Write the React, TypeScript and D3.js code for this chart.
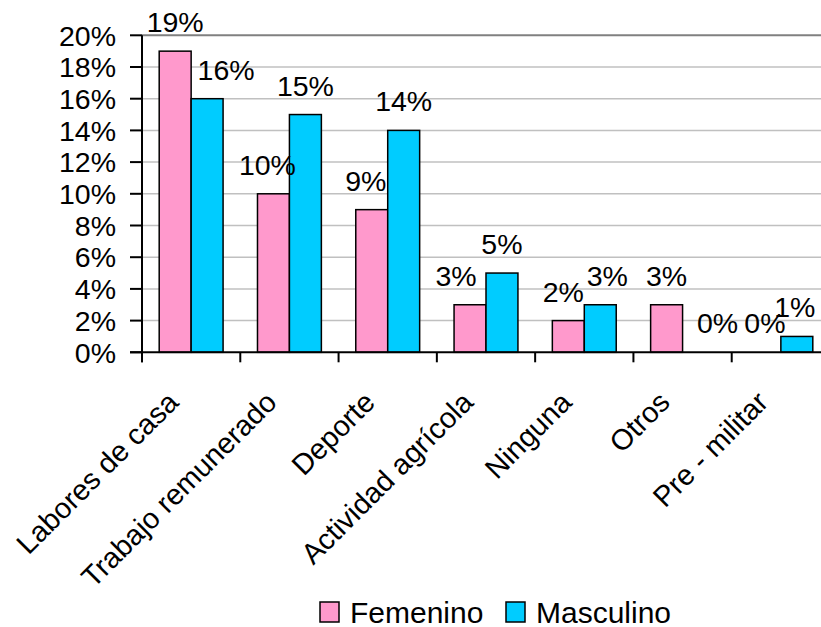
import React from "react";
import * as d3 from "d3";

const categories = [
  "Labores de casa",
  "Trabajo remunerado",
  "Deporte",
  "Actividad agrícola",
  "Ninguna",
  "Otros",
  "Pre - militar",
];
const seriesNames = ["Femenino", "Masculino"];
const femenino = [0.19, 0.1, 0.09, 0.03, 0.02, 0.03, 0.0];
const masculino = [0.16, 0.15, 0.14, 0.05, 0.03, 0.0, 0.01];
const yTicks = [0, 0.02, 0.04, 0.06, 0.08, 0.1, 0.12, 0.14, 0.16, 0.18, 0.2];
const colors = ["#FF99CC", "#00CCFF"];

// layout nudges for data labels (as placed in the original)
const labelNudge = [
  [0, -6, -6, -14, -5, 0, 0],
  [19, 0, 0, 0, 7, 19, -2],
];

const W = 821;
const H = 627;
const FONT = "'Liberation Sans', Arial, sans-serif";

export default function App() {
  const x0 = d3.scaleBand<string>().domain(categories).range([142, 830]).padding(0);
  const bw = x0.bandwidth();
  const x1 = d3
    .scaleBand<string>()
    .domain(seriesNames)
    .range([bw * 0.175, bw * 0.825])
    .padding(0);
  const y = d3.scaleLinear().domain([0, 0.2]).range([352.3, 35.3]);
  const fmt = d3.format(".0%");
  const values = [femenino, masculino];

  return (
    <svg
      width={W}
      height={H}
      style={{ position: "absolute", left: 0, top: 0, background: "#fff" }}
      fontFamily={FONT}
    >
      <rect x={0} y={0} width={W} height={H} fill="#fff" />
      {/* gridlines */}
      {yTicks.slice(1).map((t, i) => (
        <line
          key={"g" + i}
          x1={142}
          x2={830}
          y1={y(t)}
          y2={y(t)}
          stroke={t === 0.2 ? "#808080" : "#C0C0C0"}
          strokeWidth={t === 0.2 ? 2 : 1.5}
        />
      ))}
      {/* bars */}
      {categories.map((c, ci) =>
        seriesNames.map((s, si) => {
          const v = values[si][ci];
          const bx = (x0(c) as number) + (x1(s) as number);
          return (
            <rect
              key={c + s}
              x={bx}
              y={y(v)}
              width={x1.bandwidth()}
              height={y(0) - y(v)}
              fill={colors[si]}
              stroke="#000"
              strokeWidth={1.5}
            />
          );
        })
      )}
      {/* y axis */}
      <line x1={142} x2={142} y1={y(0.2)} y2={y(0) + 10} stroke="#000" strokeWidth={2} />
      {yTicks.map((t, i) => (
        <g key={"yt" + i}>
          <line x1={130} x2={142} y1={y(t)} y2={y(t)} stroke="#000" strokeWidth={2} />
          <text
            x={116}
            y={y(t)}
            dy="0.36em"
            textAnchor="end"
            fontSize={28.5}
            fill="#000"
          >
            {fmt(t)}
          </text>
        </g>
      ))}
      {/* x axis */}
      <line x1={130} x2={830} y1={y(0)} y2={y(0)} stroke="#000" strokeWidth={2} />
      {d3.range(categories.length + 1).map((i) => {
        const tx = 142 + i * bw;
        return (
          <line key={"xt" + i} x1={tx} x2={tx} y1={y(0)} y2={y(0) + 10} stroke="#000" strokeWidth={2} />
        );
      })}
      {categories.map((c) => {
        const cx = (x0(c) as number) + bw / 2;
        return (
          <text
            key={"cl" + c}
            transform={`translate(${cx - 11},${404}) rotate(-45)`}
            textAnchor="end"
            fontSize={29}
            fill="#000"
          >
            {c}
          </text>
        );
      })}
      {/* data labels */}
      {categories.map((c, ci) =>
        seriesNames.map((s, si) => {
          const v = values[si][ci];
          const bx = (x0(c) as number) + (x1(s) as number) + x1.bandwidth() / 2;
          return (
            <text
              key={"dl" + c + s}
              x={bx + labelNudge[si][ci]}
              y={y(v) - 19}
              textAnchor="middle"
              fontSize={28.5}
              fill="#000"
            >
              {fmt(v)}
            </text>
          );
        })
      )}
      {/* legend */}
      {seriesNames.map((s, i) => {
        const lx = i === 0 ? 320 : 506;
        return (
          <g key={"lg" + s}>
            <rect x={lx} y={602} width={19} height={20} fill={colors[i]} stroke="#000" strokeWidth={1.5} />
            <text x={lx + 30} y={623} fontSize={30} fill="#000">
              {s}
            </text>
          </g>
        );
      })}
    </svg>
  );
}
